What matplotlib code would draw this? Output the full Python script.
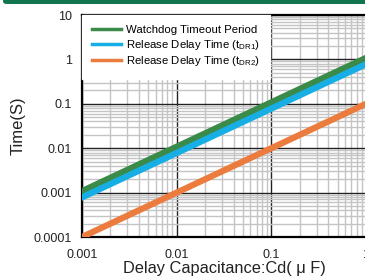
import numpy as np
import matplotlib
matplotlib.use("Agg")
from matplotlib import pyplot as plt
from matplotlib.patches import FancyBboxPatch
from matplotlib.ticker import LogLocator, FixedLocator, FixedFormatter

# delay capacitance (uF) and the three timing curves (s)
cap_uf = [0.001, 0.01, 0.1, 1.0]
watchdog_s = [0.00108, 0.0108, 0.108, 1.08]
release_dr1_s = [0.00078, 0.0078, 0.078, 0.78]
release_dr2_s = [0.0001, 0.001, 0.01, 0.1]

x_ticks = [0.001, 0.01, 0.1, 1]
x_labels = ["0.001", "0.01", "0.1", "1"]
y_ticks = [0.0001, 0.001, 0.01, 0.1, 1, 10]
y_labels = ["0.0001", "0.001", "0.01", "0.1", "1", "10"]

plt.rcParams['font.family'] = ['Liberation Sans', 'DejaVu Sans']
plt.rcParams['mathtext.fontset'] = 'custom'
plt.rcParams['mathtext.rm'] = 'Liberation Sans'

W, H = 365, 280
fig = plt.figure(figsize=(W / 100, H / 100), dpi=100)

# dark green header band of the page
band = FancyBboxPatch((3 / W, 1 - 4 / H), 1.2, 6 / H,
                      boxstyle="round,pad=0,rounding_size=0.01",
                      transform=fig.transFigure, color="#13754f", lw=0)
fig.patches.append(band)

ax = fig.add_axes([82 / W, 1 - 237 / H, (366 - 82) / W, (237 - 15) / H])
ax.set_xscale('log')
ax.set_yscale('log')
ax.set_xlim(0.001, 1)
ax.set_ylim(0.0001, 10)

ax.plot(cap_uf, watchdog_s, color='#3a8a4a', lw=4.5, label='Watchdog Timeout Period', zorder=3)
ax.plot(cap_uf, release_dr1_s, color='#16aee4', lw=4.5, label=r'Release Delay Time (t$_{\rm DR1}$)', zorder=3)
ax.plot(cap_uf, release_dr2_s, color='#ec7c3e', lw=4.5, label=r'Release Delay Time (t$_{\rm DR2}$)', zorder=3)

ax.xaxis.set_major_locator(FixedLocator(x_ticks))
ax.xaxis.set_major_formatter(FixedFormatter(x_labels))
ax.yaxis.set_major_locator(FixedLocator(y_ticks))
ax.yaxis.set_major_formatter(FixedFormatter(y_labels))
ax.xaxis.set_minor_locator(LogLocator(base=10, subs=np.arange(2, 10)))
ax.yaxis.set_minor_locator(LogLocator(base=10, subs=np.arange(2, 10)))

ax.grid(True, which='minor', color='#c4c4c4', lw=1.0)
ax.grid(True, which='major', color='#222222', lw=1.0)
ax.tick_params(which='both', length=0, labelsize=9, colors='#222222')
ax.tick_params(axis='y', pad=7)
ax.tick_params(axis='x', pad=9)

for side in ['left', 'bottom', 'top']:
    ax.spines[side].set_linewidth(1.6)
    ax.spines[side].set_color('black')
ax.spines['right'].set_visible(False)

ax.set_xlabel('Delay Capacitance:Cd( μ F)', fontsize=11.8, labelpad=0, color='#222222')
ax.set_ylabel('Time(S)', fontsize=12, labelpad=6, color='#222222')

leg = ax.legend(loc='upper left', fontsize=8.2, frameon=True, fancybox=False,
                borderaxespad=0.0, handlelength=2.5, labelspacing=0.22,
                borderpad=0.9, handletextpad=0.45)
leg.get_frame().set_edgecolor('white')
leg.get_frame().set_alpha(1)
for line in leg.get_lines():
    line.set_linewidth(2.5)

fig.savefig('out.png', dpi=100)
